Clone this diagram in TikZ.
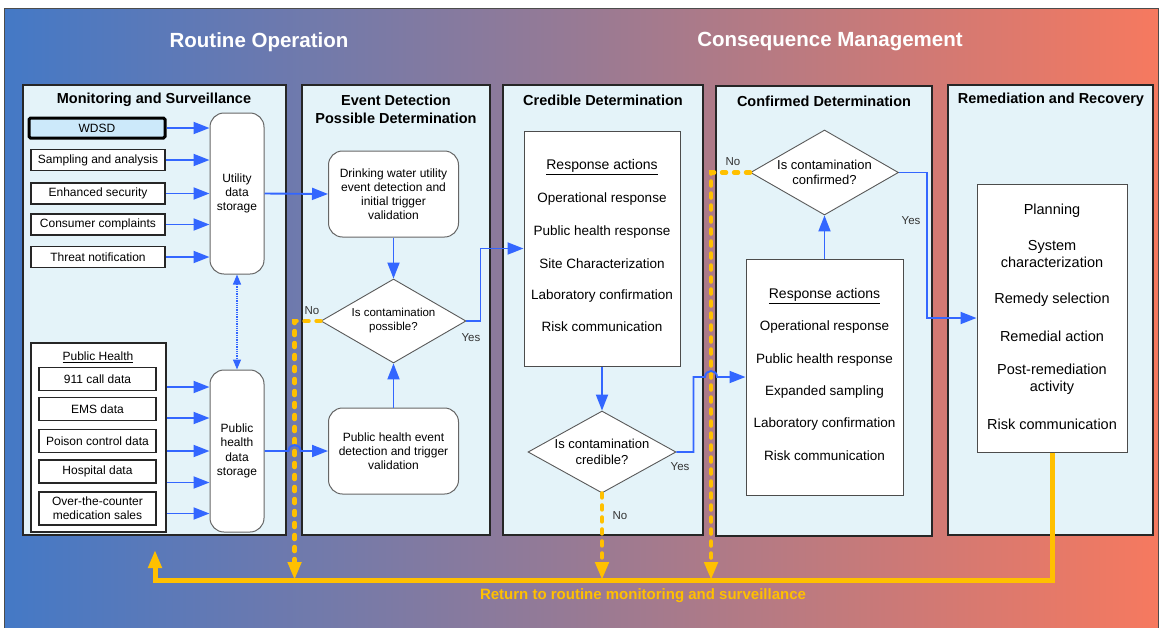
\documentclass[tikz,border=0pt]{standalone}
\usepackage{fontspec}
\setmainfont{Liberation Sans}
\usetikzlibrary{arrows.meta,shapes.geometric,calc}

%% Farben
\definecolor{flowblue}{RGB}{51,102,255}
\definecolor{loopyellow}{RGB}{255,192,0}
\definecolor{panelfill}{RGB}{228,243,249}
\definecolor{wdsdfill}{RGB}{204,233,250}
\definecolor{bgleft}{RGB}{68,121,198}
\definecolor{bgmid}{RGB}{152,122,148}
\definecolor{bgright}{RGB}{246,121,95}

\newcommand{\fsz}[2]{\fontsize{#1}{#2}\selectfont}

\tikzset{
  panel/.style={draw=black!85, line width=1.2pt, fill=panelfill},
  maintitle/.style={text=white, font=\fsz{20.5}{24}\bfseries},
  paneltitle/.style={font=\fsz{14.5}{18}\bfseries, align=center},
  srcbox/.style={draw=black!85, line width=1.1pt, fill=white, inner sep=0pt,
    minimum width=134pt, minimum height=21pt, font=\fsz{12}{14}, align=center},
  wdsdbox/.style={srcbox, draw=black, fill=wdsdfill, line width=3pt, rounded corners=1.5pt,
    minimum width=136pt, minimum height=20pt},
  phbox/.style={srcbox, minimum width=117pt, minimum height=23pt},
  storebox/.style={draw=black!60, line width=1pt, fill=white, rounded corners=14pt,
    minimum width=54pt, inner sep=0pt, font=\fsz{12}{14.3}, align=center},
  detectbox/.style={storebox, minimum width=130pt, minimum height=86pt, font=\fsz{12}{14}},
  decision/.style={diamond, draw=black!65, line width=0.9pt, fill=white, aspect=1.75,
    inner sep=0pt, align=center},
  respbox/.style={draw=black!70, line width=1pt, fill=white, inner sep=0pt},
  resptext/.style={font=\fsz{13.5}{16}},
  remtext/.style={font=\fsz{14.5}{17}, align=center},
  flow/.style={draw=flowblue, line width=1.9pt, -{Triangle[length=16pt,width=12pt]}},
  duplex/.style={draw=flowblue, line width=1.3pt, densely dotted,
    {Triangle[length=10pt,width=8pt]}-{Triangle[length=10pt,width=8pt]}},
  retdash/.style={draw=loopyellow, line width=4.5pt, line cap=round,
    dash pattern=on 4pt off 8pt, -{Triangle[length=18pt,width=13pt]}},
  retsolid/.style={draw=loopyellow, line width=5pt},
  yesno/.style={font=\fsz{11.5}{13}, text=black!80},
}

\begin{document}
\begin{tikzpicture}[x=1pt, y=-1pt]
\useasboundingbox (0,0) rectangle (1160,627);

	%% Hintergrund
	\fill[white] (0,0) rectangle (1160,627);
	\shade[left color=bgleft, right color=bgright, middle color=bgmid] (4,8) rectangle (1158,630);
	\draw[black!70, line width=1pt] (4,630) -- (4,8) -- (1158,8) -- (1158,630);

	\node[maintitle] (routine) at (259,42) {Routine Operation};
	\node[maintitle] (consequence) at (830,42) {Consequence Management};

	%% Spalten
	\draw[panel] (23,85) rectangle (286,535);
	\draw[panel] (302,85) rectangle (490,535);
	\draw[panel] (503,85) rectangle (703,535);
	\draw[panel] (716,86) rectangle (932,536);
	\draw[panel] (948,85) rectangle (1153,535);

	\node[paneltitle] (monitortitle) at (154,100) {Monitoring and Surveillance};
	\node[paneltitle] (detecttitle) at (396,109) {Event Detection\\Possible Determination};
	\node[paneltitle] (credtitle) at (603,100) {Credible Determination};
	\node[paneltitle] (conftitle) at (824,101) {Confirmed Determination};
	\node[paneltitle] (remtitle) at (1051,100) {Remediation and Recovery};

	%%%%%%%%%%%%%%%%

	%% Monitoring and Surveillance
	\node[storebox, minimum height=161pt] (utility) at (237,193.5) {Utility\\data\\storage};
	\node[wdsdbox] (wdsd) at (97,128) {WDSD};
	\foreach \y/\name/\txt in {160/sampling/Sampling and analysis, 193.5/security/Enhanced security,
		224.5/complaints/Consumer complaints, 257/threat/Threat notification}
		\node[srcbox] (\name) at (98,\y) {\txt};
	\foreach \name in {wdsd,sampling,security,complaints,threat}
		\draw[flow] (\name.east) -- (\name.east -| utility.west);

	\node[draw=black!85, line width=1.1pt, fill=white, minimum width=135pt, minimum height=189pt,
		inner sep=0pt] (phgroup) at (98.5,437.5) {};
	\node[font=\fsz{12}{14}] (phlabel) at (98,357) {\underline{Public Health}};
	\foreach \y/\name/\txt in {379/calls/911 call data, 409/ems/EMS data,
		441/poison/Poison control data, 471.5/hospital/Hospital data}
		\node[phbox] (\name) at (97.5,\y) {\txt};
	\node[phbox, minimum height=33pt] (otc) at (97.5,508.5) {Over-the-counter\\medication sales};

	\node[storebox, minimum height=162pt] (pstore) at (237,451) {Public\\health\\data\\storage};
	\foreach \name/\dy in {calls/8,ems/9,poison/10,hospital/11,otc/5}
		\draw[flow] ($(\name.east -| phgroup.east)+(0,\dy)$) -- ($(\name.east -| pstore.west)+(0,\dy)$);
	\draw[duplex] (utility.south) -- (pstore.north);

	%% Event Detection
	\node[detectbox] (utilevent) at (393.5,194) {Drinking water utility\\event detection and\\initial trigger\\validation};
	\node[decision, minimum width=145pt, minimum height=84pt, font=\fsz{11.5}{14}] (possible)
		at (393.5,321) {Is contamination\\possible?};
	\node[detectbox] (phevent) at (393.5,451) {Public health event\\detection and trigger\\validation};

	%% Credible Determination
	\node[respbox, minimum width=156pt, minimum height=235pt] (credresp) at (602,248.5) {};
	\node[resptext, font=\fsz{14}{16}] (credhead) at (602,167) {\underline{Response actions}};
	\foreach \y/\name/\txt in {199/credop/Operational response, 232/credph/Public health response,
		264/credsite/Site Characterization, 296/credlab/Laboratory confirmation,
		327/credrisk/Risk communication}
		\node[resptext] (\name) at (602,\y) {\txt};
	\node[decision, minimum width=148pt, minimum height=82pt, font=\fsz{13}{16}] (credible)
		at (602,452) {Is contamination\\credible?};

	%% Confirmed Determination
	\node[decision, minimum width=148pt, minimum height=85pt, font=\fsz{13}{15}] (confirmed)
		at (824.5,172.5) {Is contamination\\confirmed?};
	\node[respbox, minimum width=157pt, minimum height=236pt] (confresp) at (824.5,377) {};
	\node[resptext, font=\fsz{14}{16}] (confhead) at (824.5,296) {\underline{Response actions}};
	\foreach \y/\name/\txt in {327/confop/Operational response, 360/confph/Public health response,
		392/confsamp/Expanded sampling, 424/conflab/Laboratory confirmation,
		456/confrisk/Risk communication}
		\node[resptext] (\name) at (824.5,\y) {\txt};

	%% Remediation and Recovery
	\node[respbox, minimum width=150pt, minimum height=268pt] (remedy) at (1052,318) {};
	\foreach \y/\name/\txt in {211/plan/Planning, 254.5/syschar/{System\\characterization},
		300/remsel/Remedy selection, 336/remact/Remedial action,
		379/postrem/{Post-remediation\\activity}, 424/remrisk/Risk communication}
		\node[remtext] (\name) at (1052,\y) {\txt};

	%%%%%%%%%%%%%%%%

	%% Rueckfuehrung
	\coordinate (loopL) at (155,580);
	\coordinate (loopup) at ($(loopL)+(0,-30)$);
	\coordinate (nopossturn) at ($(possible.west)+(-26,0)$);
	\coordinate (noconfturn) at ($(confirmed.west)+(-39,0)$);
	\draw[retsolid, -{Triangle[length=18pt,width=13pt]}] (remedy.south) |- (loopL) -- (loopup);
	\draw[retdash] (possible.west) -- (nopossturn) -- (nopossturn |- loopL);
	\draw[retdash] (credible.south) -- (credible.south |- loopL);
	\draw[retdash] (confirmed.west) -- (noconfturn) -- (noconfturn |- loopL);
	\node[text=loopyellow, font=\fsz{15}{17}\bfseries] (backtext) at (643,596)
		{Return to routine monitoring and surveillance};

	%% Pfeile
	\coordinate (hopA) at (nopossturn |- pstore.east);
	\coordinate (hopB) at (noconfturn |- confresp.west);
	\draw[flow] (utility.east) -- (utilevent.west);
	\draw[flow] (utilevent.south) -- (possible.north);
	\draw[flow] (phevent.north) -- (possible.south);
	\draw[flow] (pstore.east) -- ($(hopA)+(-6,0)$)
		.. controls ($(hopA)+(-6,-8)$) and ($(hopA)+(6,-8)$) .. ($(hopA)+(6,0)$) -- (phevent.west);
	\draw[flow] (possible.east) -- ++(14,0) |- (credresp.west);
	\draw[flow] (credresp.south) -- (credible.north);
	\draw[flow] (credible.east) -- ++(17,0) |- ($(hopB)+(-6,0)$)
		.. controls ($(hopB)+(-6,-8)$) and ($(hopB)+(6,-8)$) .. ($(hopB)+(6,0)$) -- (confresp.west);
	\draw[flow] (confresp.north) -- (confirmed.south);
	\draw[flow] (confirmed.east) -- ++(28,0) |- (remedy.west);

	\node[yesno] (yesposs) at (471,338) {Yes};
	\node[yesno] (noposs) at (312,311) {No};
	\node[yesno] (yescred) at (680,467) {Yes};
	\node[yesno] (nocred) at (620,516) {No};
	\node[yesno] (noconf) at (733,162) {No};
	\node[yesno] (yesconf) at (911,221) {Yes};

\end{tikzpicture}
\end{document}
